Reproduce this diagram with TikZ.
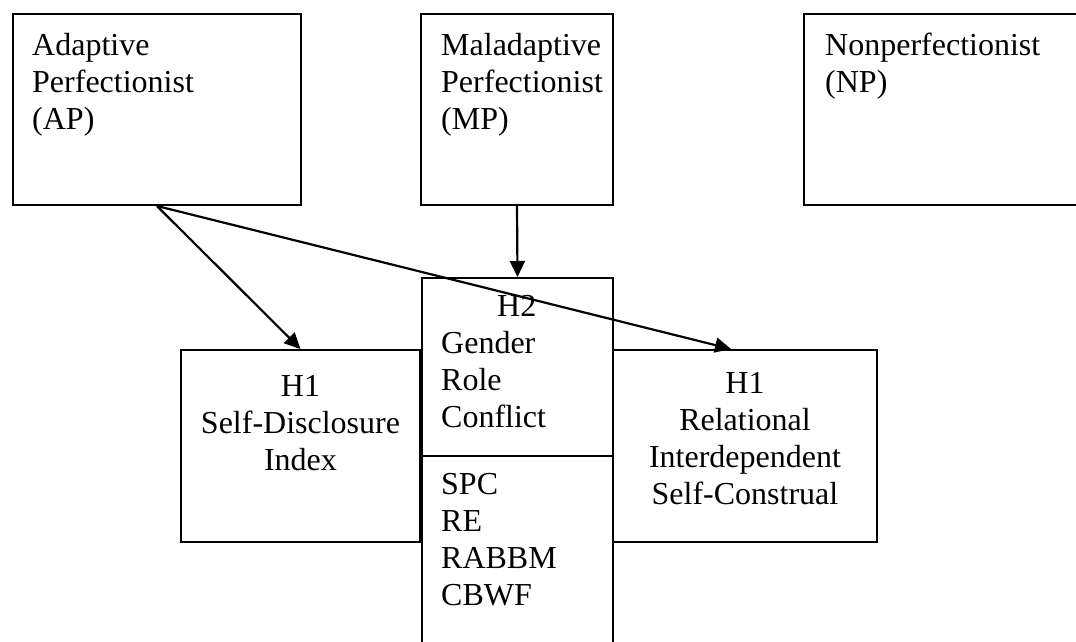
\documentclass[tikz,border=0pt]{standalone}
\usepackage{fontspec}
\setmainfont{Liberation Serif}
\usetikzlibrary{arrows.meta, positioning}

\begin{document}
\begin{tikzpicture}[
  x=1pt, y=-1pt,
  >={Triangle[length=16pt, width=15pt]},
  box/.style={draw, line width=2pt, inner sep=0pt, anchor=north west},
  lbl/.style={inner sep=0pt, font=\fontsize{32}{37}\selectfont},
  arr/.style={->, line width=2.2pt},
]

% Page frame
\useasboundingbox (0,0) rectangle (1076,641);
\clip (0,0) rectangle (1076,641);

% === Top row: perfectionism groups ===
\node[box, minimum width=288pt, minimum height=191pt] (ap) at (12,13) {};
\node[box, minimum width=192pt, minimum height=191pt] (mp) at (420,13) {};
\node[box, minimum width=290pt, minimum height=191pt] (np) at (803,13) {};

\node[lbl, align=left, below right=20pt and 20pt of ap.north west] (aptext)
  {Adaptive\\Perfectionist\\(AP)};
\node[lbl, align=left, below right=20pt and 21pt of mp.north west] (mptext)
  {Maladaptive\\Perfectionist\\(MP)};
\node[lbl, align=left, below right=20pt and 22pt of np.north west] (nptext)
  {Nonperfectionist\\(NP)};

% === Bottom row: outcome measures ===
\node[box, minimum width=239pt, minimum height=192pt] (sdi) at (180,349) {};
\node[box, minimum width=264pt, minimum height=192pt] (ris) at (612,349) {};

\node[lbl, align=center, below=26pt of sdi.north] (sditext)
  {H1\\Self-Disclosure\\Index};
\node[lbl, align=center, below=23pt of ris.north] (ristext)
  {H1\\Relational\\Interdependent\\Self-Construal};

% === Middle column: gender role conflict ===
\node[box, minimum width=191pt, minimum height=178pt] (grc) at (421,277) {};
\node[box, minimum width=191pt, minimum height=200pt] (grcsub) at (421,455) {};

\node[lbl, align=left, text width=151pt, below right=18pt and 20pt of grc.north west] (grctext)
  {\makebox[151pt]{H2}\\Gender\\Role\\Conflict};
\node[lbl, align=left, below right=18pt and 20pt of grcsub.north west] (subtext)
  {SPC\\RE\\RABBM\\CBWF};

% Arrows
\draw[arr] (ap.south) -- (sdi.north);
\draw[arr] (ap.south) -- ([xshift=-14pt]ris.north);
\draw[arr] (mp.south) -- (grc.north);

\end{tikzpicture}
\end{document}
